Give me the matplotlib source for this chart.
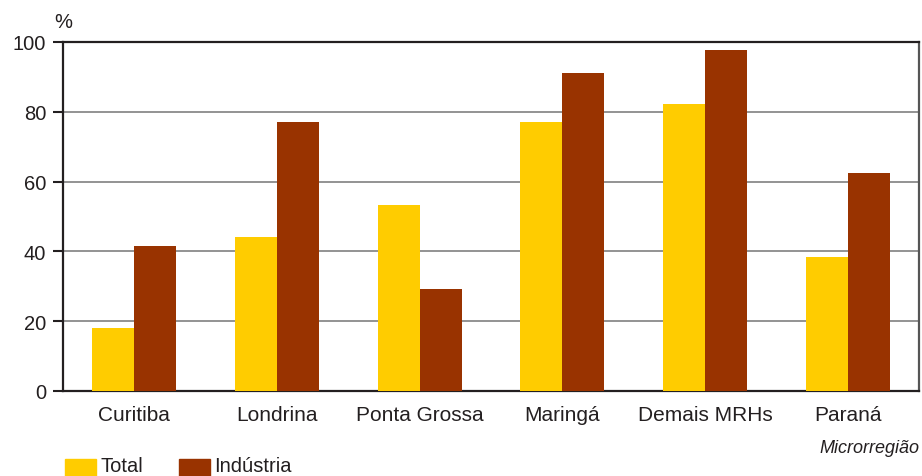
import numpy as np
import matplotlib.pyplot as plt
from matplotlib.patches import Rectangle

plt.rcParams["font.family"] = ["Liberation Sans", "DejaVu Sans"]

TEXT = "#231f20"
YELLOW = "#FFCC00"
BROWN = "#993300"

regions = ["Curitiba", "Londrina", "Ponta Grossa", "Maringá", "Demais MRHs", "Paraná"]
total = [18.1, 44.1, 53.2, 77.2, 82.3, 38.5]
industria = [41.6, 77.2, 29.3, 91.2, 97.8, 62.6]
yticks = [0, 20, 40, 60, 80, 100]

fig = plt.figure(figsize=(9.22, 4.77), dpi=100)
ax = fig.add_axes([0.0683, 0.1782, 0.9285, 0.7317])

x = np.arange(len(regions))
w = 0.295
ax.bar(x - w / 2, total, width=w, color=YELLOW, zorder=3)
ax.bar(x + w / 2, industria, width=w, color=BROWN, zorder=3)

ax.set_xlim(-0.5, len(regions) - 0.5)
ax.set_ylim(0, 100)
ax.set_yticks(yticks)
ax.set_yticklabels([str(v) for v in yticks], fontsize=14.5, color=TEXT)
ax.set_xticks(x)
ax.set_xticklabels(regions, fontsize=15, color=TEXT)
ax.tick_params(axis="x", length=0, pad=10)
ax.tick_params(axis="y", length=7, width=1.5, color=TEXT, pad=5)
for v in yticks[1:-1]:
    ax.axhline(v, color="#8a8a8a", lw=1.3, zorder=1)
for s in ax.spines.values():
    s.set_color(TEXT)
    s.set_linewidth(1.6)
ax.spines["right"].set_color("#555555")

fig.text(0.059, 0.953, "%", fontsize=14.5, color=TEXT, ha="left", va="center")
fig.text(0.997, 0.060, "Microrregião", fontsize=13, style="italic",
         color=TEXT, ha="right", va="center")

# legend swatches along the bottom edge
sw_w, sw_h = 31 / 922, 17 / 477
for x0, col, lab in [(65, YELLOW, "Total"), (179, BROWN, "Indústria")]:
    fig.add_artist(Rectangle((x0 / 922, 0.0), sw_w, sw_h,
                             transform=fig.transFigure, color=col))
    fig.text((x0 + 35) / 922, 0.5 / 477, lab, fontsize=14.5, color=TEXT,
             ha="left", va="bottom")

fig.savefig("out.png", dpi=100)
